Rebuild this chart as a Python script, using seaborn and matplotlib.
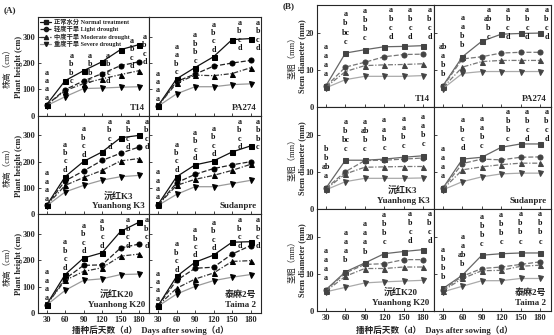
import matplotlib
matplotlib.use("Agg")
import matplotlib.pyplot as plt
from matplotlib.lines import Line2D
import pandas as pd
import seaborn as sns

days = [30, 60, 90, 120, 150, 180]
treatments = ["正常水分 Normal treatment", "轻度干旱 Light drought",
              "中度干旱 Moderate drought", "重度干旱 Severe drought"]
cultivars = ["T14", "PA274", "沅红K3\nYuanhong K3", "Sudanpre",
             "沅红K20\nYuanhong K20", "泰麻2号\nTaima 2"]

# Plant height (cm): rows = normal, light, moderate, severe
height_t14 = [[42, 133, 171, 205, 251, 270], [40, 99, 132, 160, 190, 205],
              [40, 95, 122, 140, 156, 171], [38, 72, 103, 105, 108, 110]]
height_pa274 = [[38, 140, 183, 224, 289, 293], [38, 130, 158, 188, 200, 210],
                [38, 124, 154, 152, 160, 182], [36, 83, 110, 110, 118, 121]]
height_yk3 = [[34, 143, 201, 237, 291, 300], [34, 127, 165, 205, 232, 256],
              [34, 110, 140, 167, 203, 212], [32, 85, 110, 130, 143, 148]]
height_sudan = [[38, 143, 188, 203, 237, 260], [36, 120, 152, 174, 188, 200],
                [36, 110, 133, 148, 167, 190], [34, 76, 105, 105, 117, 129]]
height_yk20 = [[32, 146, 209, 229, 310, 345], [32, 130, 181, 183, 247, 262],
               [32, 124, 158, 172, 216, 224], [30, 86, 124, 130, 146, 148]]
height_taima = [[28, 139, 193, 220, 269, 271], [28, 124, 170, 174, 224, 256],
                [28, 94, 129, 152, 196, 199], [26, 72, 101, 123, 136, 146]]

# Stem diameter (mm)
diam_t14 = [[5.8, 14.6, 15.5, 16.3, 16.4, 16.6], [5.6, 10.8, 12.1, 13.6, 14.2, 14.3],
            [5.4, 9.6, 11.2, 11.4, 11.5, 11.7], [5.2, 7.4, 8.3, 8.3, 8.3, 8.5]]
diam_pa274 = [[5.8, 13.6, 17.8, 19.7, 19.9, 20.0], [5.6, 13.0, 13.6, 14.6, 14.8, 14.8],
              [5.3, 10.8, 12.3, 12.6, 12.6, 12.6], [5.0, 9.1, 9.6, 9.6, 9.6, 9.6]]
diam_yk3 = [[5.7, 13.2, 13.2, 13.5, 14.0, 14.4], [5.6, 10.1, 13.1, 13.2, 13.5, 13.8],
            [5.4, 9.5, 11.3, 11.4, 11.5, 11.5], [5.2, 7.4, 8.3, 8.3, 8.3, 8.4]]
diam_sudan = [[5.7, 13.5, 14.0, 16.7, 17.6, 17.6], [5.6, 12.3, 13.5, 13.3, 14.0, 14.1],
              [5.4, 10.6, 11.4, 12.0, 12.4, 12.4], [5.2, 7.4, 8.7, 9.5, 9.7, 9.7]]
diam_yk20 = [[5.8, 10.6, 13.0, 15.5, 16.1, 16.6], [5.6, 10.3, 12.6, 12.8, 13.9, 13.9],
             [5.4, 9.4, 11.5, 11.5, 11.9, 11.9], [5.2, 6.4, 7.6, 7.9, 8.1, 8.3]]
diam_taima = [[6.1, 9.7, 15.1, 15.5, 15.7, 15.7], [5.8, 9.4, 11.5, 11.9, 12.6, 13.3],
              [5.5, 8.8, 10.9, 11.0, 12.1, 12.4], [5.2, 6.7, 8.2, 8.2, 8.8, 8.8]]

# significance letters (top to bottom) per day
let_h_t14 = ["a a a a", "a b b c", "a b b c", "a b c d", "a b c d", "a b c d"]
let_h_pa274 = ["a a a a", "a a b c", "a b b c", "a b c d", "a b c d", "a b c d"]
let_h_yk3 = ["a a a a", "a b c d", "a b c d", "a b c d", "a b c d", "a b c d"]
let_h_sudan = ["a a a a", "a b c d", "a b c d", "a b c d", "a b c d", "a b b c"]
let_h_yk20 = ["a a a a", "a b c d", "a b c d", "a b c d", "a b c d", "a b c d"]
let_h_taima = ["a a a a", "a b c d", "a b c d", "a b c d", "a b c d", "a b c d"]

let_d_t14 = ["a a a a", "a b bc c", "a b b c", "a b c d", "a b c d", "a b c d"]
let_d_pa274 = ["ab a b b", "a a b b", "a ab b c", "a b c d", "a b c d", "a b c d"]
let_d_yk3 = ["b b ab a", "a b bc c", "a ab b c", "a a b c", "a a b c", "a a b c"]
let_d_sudan = ["a a a a", "a b c d", "a a b c", "a b b c", "a b c d", "a b c d"]
let_d_yk20 = ["a a a a", "a a a b", "a a a b", "a b b c", "a b c d", "a b c d"]
let_d_taima = ["a b b b", "a a ab b", "a b b c", "a b b c", "a b b c", "a b b c"]

heights = [height_t14, height_pa274, height_yk3, height_sudan, height_yk20, height_taima]
diams = [diam_t14, diam_pa274, diam_yk3, diam_sudan, diam_yk20, diam_taima]
let_h = [let_h_t14, let_h_pa274, let_h_yk3, let_h_sudan, let_h_yk20, let_h_taima]
let_d = [let_d_t14, let_d_pa274, let_d_yk3, let_d_sudan, let_d_yk20, let_d_taima]

sns.set_theme(style="ticks")
SERIF = ["Liberation Serif", "Noto Sans CJK SC", "DejaVu Sans"]
plt.rcParams["font.family"] = SERIF
plt.rcParams["font.weight"] = "bold"
plt.rcParams["axes.linewidth"] = 0.8

markers = dict(zip(treatments, ["s", "o", "^", "v"]))
dashes = dict(zip(treatments, ["", (4, 1.6), (4, 1.4, 1, 1.4), ""]))
pal_A = dict(zip(treatments, ["#111111", "#222222", "#333333", "#9a9a9a"]))
pal_B = dict(zip(treatments, ["#666666", "#777777", "#777777", "#aaaaaa"]))

W, H = 554, 335
fig = plt.figure(figsize=(W / 100, H / 100), dpi=100)
gsA = fig.add_gridspec(3, 2, left=38 / W, right=261 / W, top=1 - 17 / H, bottom=1 - 313 / H,
                       hspace=0, wspace=0)
gsB = fig.add_gridspec(3, 2, left=317 / W, right=551 / W, top=1 - 5 / H, bottom=1 - 311 / H,
                       hspace=0, wspace=0)


def draw(ax, data, letters, pal, mcol, ylim, yticks, off, sp, clamp, lw):
    rows = []
    for t, vals in zip(treatments, data):
        for d, v in zip(days, vals):
            rows.append((d, v, t))
    df = pd.DataFrame(rows, columns=["day", "val", "treat"])
    sns.lineplot(data=df, x="day", y="val", hue="treat", style="treat",
                 palette=pal, markers=markers, dashes=dashes, markersize=3.6,
                 linewidth=lw, markerfacecolor=mcol, markeredgecolor=mcol,
                 legend=False, ax=ax, zorder=3)
    for i, d in enumerate(days):
        base = max(s[i] for s in data)
        labs = letters[i].split()
        y_top = base + off + sp * (len(labs) - 1)
        x = d
        top, sh = clamp(d)
        if y_top > top:
            y_top = top
            x = d + sh
        for k, lab in enumerate(labs):
            ax.text(x, y_top - k * sp, lab, ha="center", va="center",
                    fontsize=5.8, fontweight="bold", color="#111111")
    ax.set_xlim(16, 197)
    ax.set_ylim(*ylim)
    ax.set_xticks(days)
    ax.set_yticks(yticks)
    ax.set_xlabel("")
    ax.set_ylabel("")
    ax.tick_params(direction="in", length=2, width=0.6, labelsize=6, pad=2)
    for lab in ax.get_xticklabels() + ax.get_yticklabels():
        lab.set_fontweight("bold")


def clamp_A(idx):
    if idx == 0:  # keep clear of the legend
        return lambda d: (228, 10) if d <= 120 else ((285, 18) if d == 150 else (300, 9))
    return lambda d: (352, 12)


axesA, axesB = [], []
for idx in range(6):
    r, c = divmod(idx, 2)
    ax = fig.add_subplot(gsA[r, c])
    draw(ax, heights[idx], let_h[idx], pal_A, "#000000", (0, 375), [0, 100, 200, 300],
         26, 32, clamp_A(idx), 0.9)
    axesA.append(ax)
    axb = fig.add_subplot(gsB[r, c])
    draw(axb, diams[idx], let_d[idx], pal_B, "#444444", (0, 27.6), [0, 10, 20],
         3.1, 2.45, lambda d: (26.2, 10), 0.9)
    axesB.append(axb)
    for a in (ax, axb):
        if c == 1:
            a.tick_params(labelleft=False)
        if r < 2:
            a.tick_params(labelbottom=False)
        a.text(0.96, 0.04, cultivars[idx], transform=a.transAxes, ha="right", va="bottom",
               multialignment="center", fontsize=6.5, fontweight="bold", linespacing=1.3)

# legend
handles = [Line2D([], [], color=pal_A[t], marker=markers[t], markersize=3.0,
                  markerfacecolor="k", markeredgecolor="k", linewidth=0.9,
                  dashes=dashes[t] if dashes[t] else (None, None)) for t in treatments]
handles[0].set_linestyle("-")
handles[3].set_linestyle("-")
axesA[0].legend(handles, treatments, loc="upper left", frameon=False, fontsize=4.5,
                handlelength=1.9, handletextpad=0.4, labelspacing=0.18,
                borderaxespad=0.1, borderpad=0.15)

# y labels
for r, yc in enumerate([66.5, 165.5, 264]):
    fig.text(8 / W, 1 - yc / H, "株高（cm）", rotation=90, ha="center", va="center",
             fontsize=6, fontweight="normal")
    fig.text(19 / W, 1 - yc / H, "Plant height (cm)", rotation=90, ha="center",
             va="center", fontsize=6, fontweight="bold")
for r, yc in enumerate([56, 158, 260]):
    fig.text(293 / W, 1 - yc / H, "茎粗（mm）", rotation=90, ha="center", va="center",
             fontsize=6, fontweight="normal")
    fig.text(302 / W, 1 - yc / H, "Stem diameter (mm)", rotation=90, ha="center",
             va="center", fontsize=6, fontweight="bold")

fig.text(150 / W, 1 - 330 / H, "播种后天数（d）  Days after sowing（d）", ha="center",
         va="center", fontsize=6.2, fontweight="bold")
fig.text(434 / W, 1 - 330 / H, "播种后天数（d）  Days after sowing（d）", ha="center",
         va="center", fontsize=6.2, fontweight="bold")
fig.text(4 / W, 1 - 10 / H, "(A)", ha="left", va="center", fontsize=6.5, fontweight="bold")
fig.text(283 / W, 1 - 6 / H, "(B)", ha="left", va="center", fontsize=6.5, fontweight="bold")

fig.savefig("out.png", dpi=100)
